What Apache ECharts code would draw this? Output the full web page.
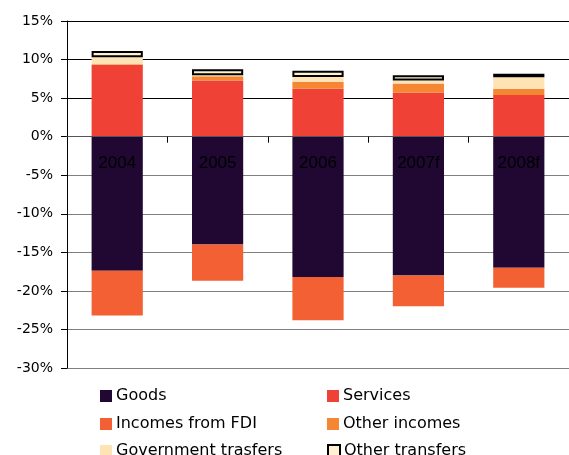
<!DOCTYPE html>
<html><head><meta charset="utf-8">
<script src="https://cdn.jsdelivr.net/npm/echarts@6/dist/echarts.min.js"></script>
<style>html,body{margin:0;padding:0;background:#fff}#c{width:569px;height:455px}</style>
</head><body><div id="c"></div>
<script>
const categories = ['2004','2005','2006','2007f','2008f'];
const goods = [-17.4, -14.0, -18.2, -18.0, -17.0];
const services = [9.3, 7.3, 6.2, 5.7, 5.4];
const incomesFDI = [-5.8, -4.7, -5.6, -4.0, -2.6];
const otherIncomes = [0.1, 0.55, 0.9, 1.2, 0.8];
const govTransfers = [0.9, 0.1, 0.65, 0.4, 1.5];
const otherTransfers = [0.8, 0.8, 0.8, 0.65, 0.45];
const yTicks = {min: -30, max: 15, step: 5};

const FONT = 'DejaVu Sans';
const names = ['Goods','Services','Incomes from FDI','Other incomes','Government trasfers','Other transfers'];
const colors = ['#200833','#EF4136','#F26033','#F58634','#FEE3B5','#FFF0D2'];
const dataSets = [goods, services, incomesFDI, otherIncomes, govTransfers, otherTransfers];

const series = names.map((n,i)=>{
  const s = {
    name: n, type: 'bar', stack: 'all', data: dataSets[i], barWidth: '51%',
    itemStyle: i===5 ? {color: colors[i], borderColor:'#000', borderWidth:2} : {color: colors[i]}
  };
  if (i===0) {
    s.label = {show:true, position:'insideTop', distance:18, color:'#000',
      fontFamily:'Liberation Sans', fontSize:17, formatter: p => categories[p.dataIndex]};
  }
  return s;
});

const legendPos = [[95,383],[322,383],[95,411],[322,411],[95,438],[322,438]];
const legends = names.map((n,i)=>({
  data:[n], left: legendPos[i][0], top: legendPos[i][1], itemWidth:12, itemHeight:12, itemGap:0,
  icon:'rect', selectedMode:false,
  textStyle:{fontFamily:FONT, fontSize:16, color:'#000', padding:[0,0,0,-1]}
}));

const gridColors = ['#808080','#808080','#808080','#808080','#808080','#808080','#000','#000','#000','#000'];

const chart = echarts.init(document.getElementById('c'), null, {renderer:'canvas'});
chart.setOption({
  animation:false,
  backgroundColor:'#fff',
  grid:{left:67, right:-2, top:21, bottom:87, containLabel:false},
  legend: legends,
  xAxis:{type:'category', data: categories, z:10,
    axisLine:{onZero:true, lineStyle:{color:'#555', width:1}},
    axisTick:{show:true, length:6, inside:false, lineStyle:{color:'#000'}},
    axisLabel:{show:false}
  },
  yAxis:{type:'value', min:yTicks.min, max:yTicks.max, interval:yTicks.step,
    axisLine:{show:true, lineStyle:{color:'#000'}},
    axisTick:{show:true, length:6, lineStyle:{color:'#000'}},
    axisLabel:{formatter:'{value}%', margin:14, fontFamily:FONT, fontSize:14, color:'#000'},
    splitLine:{show:true, lineStyle:{color:gridColors, width:1}}
  },
  series: series
});
</script></body></html>
